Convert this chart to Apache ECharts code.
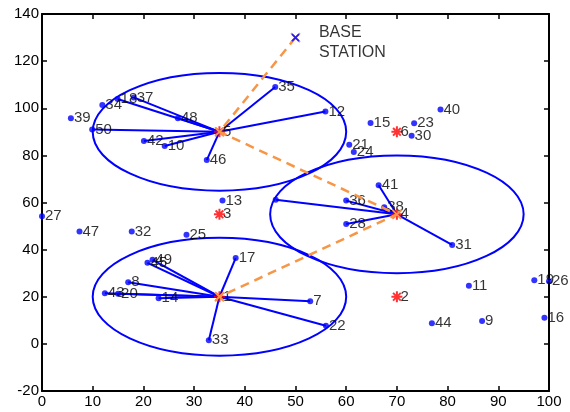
<!DOCTYPE html>
<html><head><meta charset="utf-8">
<script src="https://cdn.jsdelivr.net/npm/echarts@6/dist/echarts.min.js"></script>
<style>html,body{margin:0;padding:0;background:#fff}#c{width:570px;height:412px}</style>
</head><body><div id="c"></div>
<script>
// Sensor nodes (id, x, y, cluster index: 0 upper, 1 middle, 2 lower, -1 none)
const nodeIds = [7,8,9,10,11,12,13,14,15,16,17,18,19,20,21,22,23,24,25,26,27,28,29,30,31,32,33,34,35,36,37,38,39,40,41,42,43,44,45,46,47,48,49,50];
const nodeX   = [52.9,17.0,86.8,24.2,84.2,55.9,35.6,23.0,64.8,99.1,38.2,14.9,97.1,15.0,60.6,56.0,73.4,61.5,28.5,100,0,60.0,46.1,72.9,80.9,17.7,32.9,11.9,46.0,60.0,18.1,67.5,5.7,78.6,66.4,20.1,12.4,76.9,20.8,32.5,7.4,26.8,21.8,9.9];
const nodeY   = [18.1,26.2,9.7,84.0,24.7,98.6,60.8,19.4,93.7,11.1,36.4,103.9,27.0,21.3,84.5,7.7,93.6,81.4,46.3,26.6,54.2,50.9,61.2,88.3,42.0,47.7,1.5,101.4,109.0,60.8,104.6,58.0,95.8,99.5,67.3,86.1,21.5,8.8,34.4,78.0,47.7,95.8,35.7,91.0];
const nodeCluster = [2,2,-1,0,-1,0,-1,2,-1,-1,2,0,-1,2,-1,2,-1,-1,-1,-1,-1,1,1,-1,1,-1,2,-1,0,1,0,1,-1,-1,1,0,2,-1,2,0,-1,0,2,0];
const hiddenLabels = [29];
// Candidate cluster-head positions (red stars)
const starIds = [5,6,3,4,1,2];
const starX = [35,70,35,70,35,70];
const starY = [90,90,55,55,20,20];
// Chosen cluster heads (upper, middle, lower)
const headX = [35,70,35];
const headY = [90,55,20];
const clusterRadius = [25,25,25];
// Base station and multi-hop route
const baseX = 50, baseY = 130;
const routeX = [50,35,70,35];
const routeY = [130,90,55,20];
const xTicks = [0,100,10];
const yTicks = [-20,140,20];

const font = 'Liberation Sans, Arial, sans-serif';
const nodeData = nodeIds.map((id,i)=>{
  const d = {name:String(id), value:[nodeX[i],nodeY[i]]};
  if (hiddenLabels.includes(id)) d.label = {show:false};
  return d;
});
const links = [];
nodeIds.forEach((id,i)=>{
  const c = nodeCluster[i];
  if (c >= 0) links.push({coords:[[headX[c],headY[c]],[nodeX[i],nodeY[i]]]});
});
const starData = starIds.map((id,i)=>({name:String(id), value:[starX[i],starY[i]]}));
const ellipseData = headX.map((x,i)=>[x, headY[i], clusterRadius[i]]);
const asterisk = 'path://M0,-5L0,5M-5,0L5,0M-3.5,-3.5L3.5,3.5M-3.5,3.5L3.5,-3.5';
const cross = 'path://M-4,-4L4,4M-4,4L4,-4';

const axisCommon = {
  axisLine:{show:true, onZero:false, lineStyle:{color:'#000', width:2}},
  axisTick:{show:true, inside:true, length:5, lineStyle:{color:'#000', width:1.5}},
  splitLine:{show:false}
};
const chart = echarts.init(document.getElementById('c'));
chart.setOption({
  animation:false,
  grid:{left:42, right:21, top:14, bottom:21, containLabel:false},
  xAxis:[
    Object.assign({type:'value', min:xTicks[0], max:xTicks[1], interval:xTicks[2], position:'bottom',
      axisLabel:{color:'#000', fontFamily:font, fontSize:15, margin:3}}, axisCommon),
    Object.assign({type:'value', min:xTicks[0], max:xTicks[1], interval:xTicks[2], position:'top',
      axisLabel:{show:false}}, axisCommon)
  ],
  yAxis:[
    Object.assign({type:'value', min:yTicks[0], max:yTicks[1], interval:yTicks[2], position:'left',
      axisLabel:{color:'#000', fontFamily:font, fontSize:15, margin:3}}, axisCommon),
    Object.assign({type:'value', min:yTicks[0], max:yTicks[1], interval:yTicks[2], position:'right',
      axisLabel:{show:false}}, axisCommon)
  ],
  series:[
    {
      type:'custom', xAxisIndex:0, yAxisIndex:0, data:ellipseData, silent:true, z:1,
      renderItem:(params, api)=>{
        const c = api.coord([api.value(0), api.value(1)]);
        const s = api.size([api.value(2), api.value(2)]);
        return {type:'ellipse', shape:{cx:c[0], cy:c[1], rx:s[0], ry:s[1]},
          style:{fill:'none', stroke:'#0000ff', lineWidth:2}};
      }
    },
    {
      type:'lines', coordinateSystem:'cartesian2d', xAxisIndex:0, yAxisIndex:0, data:links, z:2,
      lineStyle:{color:'#0000ff', width:2, opacity:1}, symbol:'none', silent:true
    },
    {
      type:'scatter', xAxisIndex:0, yAxisIndex:0, data:nodeData, z:3,
      symbol:'circle', symbolSize:6, itemStyle:{color:'#0000ff'},
      label:{show:true, position:'right', distance:0, formatter:'{b}', color:'#000', fontFamily:font, fontSize:15}
    },
    {
      type:'scatter', xAxisIndex:0, yAxisIndex:0, data:starData, z:4,
      symbol:asterisk, symbolSize:11, itemStyle:{color:'rgba(0,0,0,0)', borderColor:'#ff0000', borderWidth:2},
      label:{show:true, position:'right', distance:-3, formatter:'{b}', color:'#000', fontFamily:font, fontSize:15}
    },
    {
      type:'line', xAxisIndex:0, yAxisIndex:0, data:routeX.map((x,i)=>[x,routeY[i]]), z:5,
      symbol:cross, symbolSize:9, showSymbol:true,
      itemStyle:{color:'rgba(0,0,0,0)', borderColor:'#f79646', borderWidth:1.8},
      lineStyle:{color:'#f79646', width:2.5, type:[9,6]}
    },
    {
      type:'scatter', xAxisIndex:0, yAxisIndex:0, data:[{name:'BASE\nSTATION', value:[baseX,baseY]}], z:6,
      symbol:cross, symbolSize:7, itemStyle:{color:'rgba(0,0,0,0)', borderColor:'#0000ff', borderWidth:1.8},
      label:{show:true, position:'right', distance:19, offset:[0,5], align:'left', formatter:'{b}', color:'#000', fontFamily:font, fontSize:16, lineHeight:20}
    }
  ]
});
</script></body></html>
